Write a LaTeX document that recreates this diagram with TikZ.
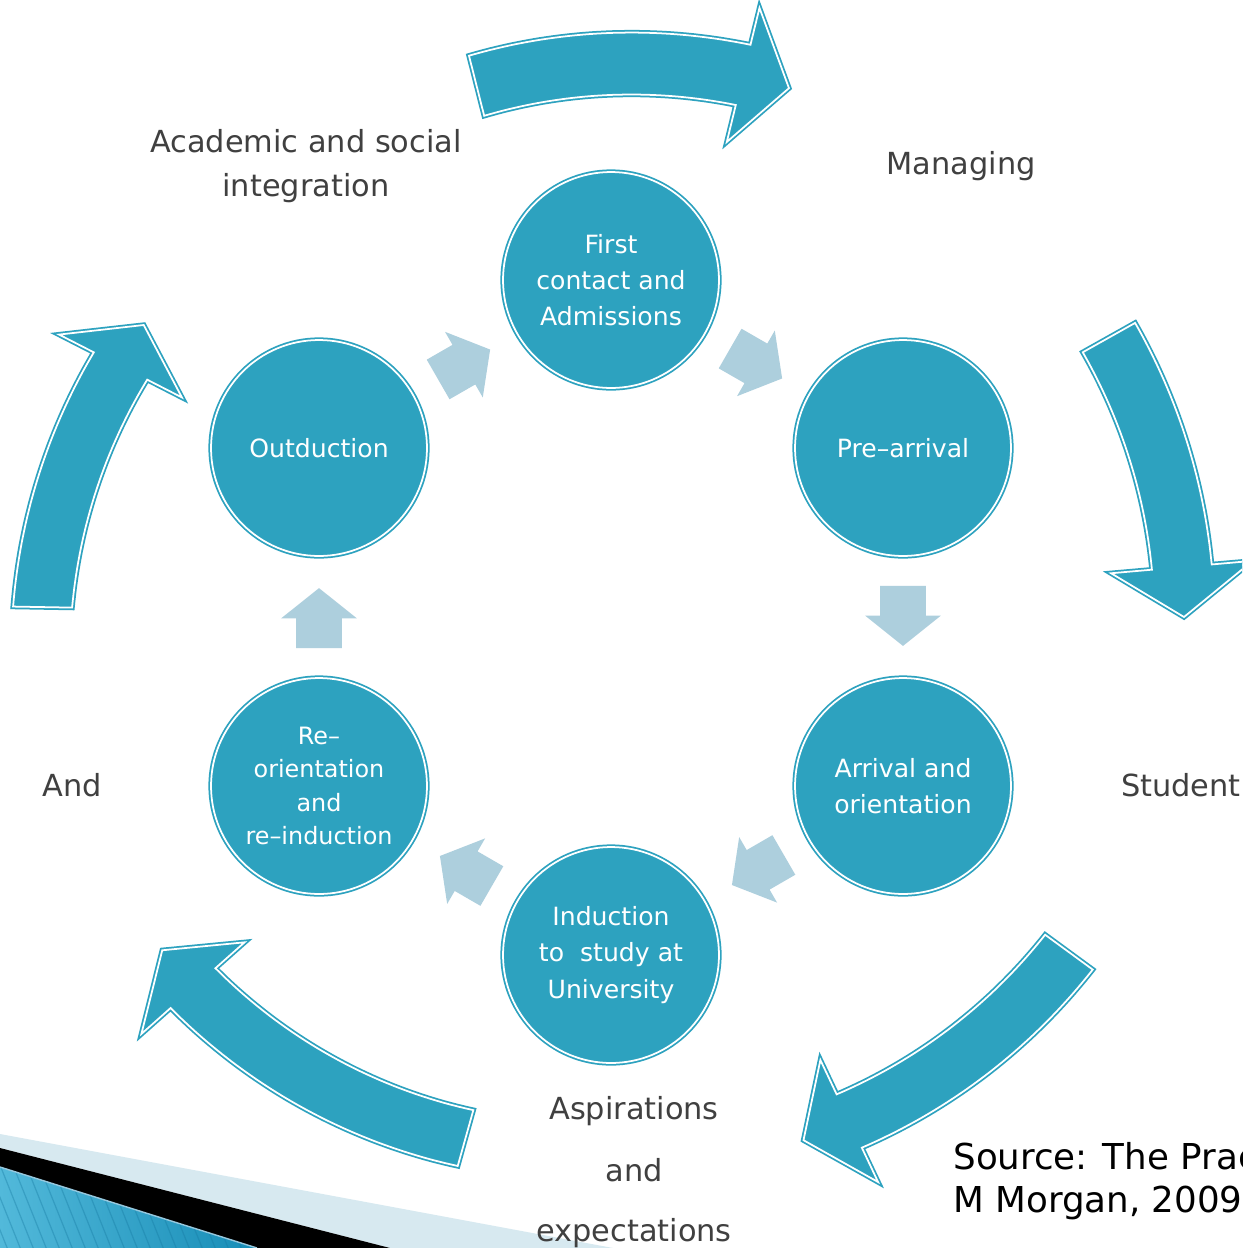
\documentclass[tikz,border=0pt]{standalone}
\usepackage{fontspec}
\setmainfont{DejaVu Sans}
\usetikzlibrary{calc,shapes.arrows}
\definecolor{teal1}{RGB}{45,162,191}
\definecolor{lightarr}{RGB}{173,207,221}
\definecolor{labelgray}{RGB}{64,64,64}
\definecolor{bandlight}{RGB}{215,233,240}
\definecolor{stripeA}{RGB}{82,185,218}
\definecolor{stripeB}{RGB}{22,140,182}
\definecolor{stripeline}{RGB}{20,120,160}
\definecolor{bandedge}{RGB}{150,200,222}
\newcommand\cyclearrow[8]{%
  \path[bigarrow, shift={(611,617)}]
    plot[domain=#1:#2, samples=40, variable=\t] (\t:{#4+((#6)-(#4))*(\t-(#1))/((#2)-(#1))})
    -- (#2:{#6-#8}) -- (#3:{(#6+#7)/2}) -- (#2:{#7+#8})
    -- plot[domain=#2:#1, samples=40, variable=\t] (\t:{#5+((#7)-(#5))*(\t-(#1))/((#2)-(#1))})
    -- cycle;
}
\begin{document}
\begin{tikzpicture}[x=0.02cm, y=-0.02cm,
  stage/.style={circle, fill=teal1, draw=teal1, line width=1pt, double=white, double distance=1pt,
    minimum size=4.32cm, inner sep=0pt, text=white, align=center,
    font=\fontsize{14.3}{20.7}\selectfont},
  flow/.style={single arrow, fill=lightarr, draw=none, minimum height=1.2cm, minimum width=0pt,
    single arrow head extend=0.3cm, single arrow tip angle=102.7, inner xsep=0pt, inner ysep=0.45cm,
    outer sep=0pt, sloped, allow upside down, pos=0.415},
  bigarrow/.style={fill=teal1, draw=teal1, line width=1pt, double=white, double distance=1pt, line join=miter},
  outer/.style={text=labelgray, font=\fontsize{17.3}{25.5}\selectfont, inner sep=0pt},
  srcnote/.style={text=black, font=\fontsize{20.3}{24.4}\selectfont, inner sep=0pt, anchor=base west},
]
\useasboundingbox (0,0) rectangle (1242,1248);
\clip (0,0) rectangle (1242,1248);
\fill[white] (0,0) rectangle (1242,1248);

% bottom-left decoration
\fill[bandlight] (0,1134) -- (613,1248) -- (390,1248) -- (0,1148) -- cycle;
\fill[black] (0,1148) -- (390,1248) -- (257,1248) -- (0,1167) -- cycle;
\begin{scope}
  \clip (0,1167) -- (257,1248) -- (0,1248) -- cycle;
  \shade[left color=stripeA, right color=stripeB] (0,1160) rectangle (260,1250);
  \foreach \s in {-80,-67,...,260} \draw[stripeline, opacity=0.35, line width=0.7pt] (\s,1160) -- ++(36,90);
\end{scope}
\draw[bandedge, line width=0.8pt] (0,1167) -- (257,1248);

% big cycle arrows
\cyclearrow{-104.2}{-76.3}{-71.4}{517}{579}{527}{589}{38}
\cyclearrow{-29.3}{-5}{0}{541}{601}{543}{603}{41}
\cyclearrow{36.2}{64.7}{69.8}{538}{597}{528}{587}{38}
\cyclearrow{105.6}{138.4}{143.4}{512}{570}{529}{589}{39}
\cyclearrow{-179}{-152.9}{-148}{539}{598}{521}{581}{39}

% stages
\node[stage] (first) at (611,280) {First\\contact and\\Admissions};
\node[stage] (pre) at (903,448) {Pre–arrival};
\node[stage] (arr) at (903,786) {Arrival and\\orientation};
\node[stage] (ind) at (611,955) {Induction\\to\ \ study at\\University};
\node[stage, font=\fontsize{13.6}{18.9}\selectfont] (reo) at (319,786) {Re–\\orientation\\and\\re–induction};
\node[stage] (out) at (319,448) {Outduction};

% flow arrows between stages
\path (first) -- node[flow] (f1) {} (pre);
\path (pre) -- node[flow] (f2) {} (arr);
\path (arr) -- node[flow] (f3) {} (ind);
\path (ind) -- node[flow] (f4) {} (reo);
\path (reo) -- node[flow] (f5) {} (out);
\path (out) -- node[flow] (f6) {} (first);

% outer labels
\node[outer, anchor=base] (lblA1) at (306,152) {Academic and social};
\node[outer, anchor=base] (lblA2) at (306,196) {integration};
\node[outer, anchor=base] (lblM) at (961,174) {Managing};
\node[outer, anchor=base] (lblAnd) at (72,796) {And};
\node[outer, anchor=base east] (lblS) at (1241,796) {Student};
\node[outer, anchor=base] (lblAsp) at (634,1119) {Aspirations};
\node[outer, anchor=base] (lblAnd2) at (634,1181) {and};
\node[outer, anchor=base] (lblExp) at (634,1241) {expectations};
\node[srcnote] (src1) at (953,1169) {Source: The Prac};
\node[srcnote] (src2) at (953,1212) {M Morgan, 2009};
\end{tikzpicture}
\end{document}
